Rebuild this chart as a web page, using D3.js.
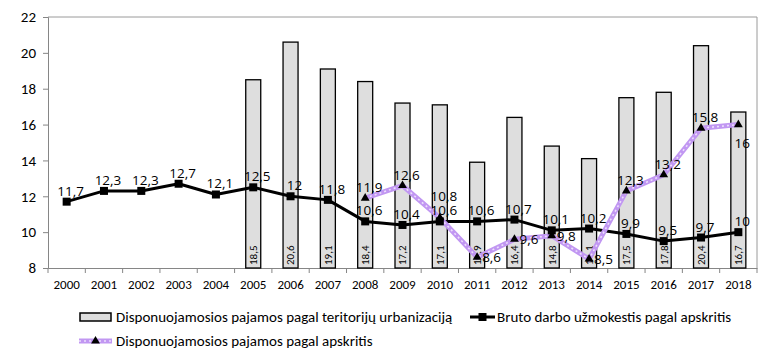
<!DOCTYPE html>
<html>
<head>
<meta charset="utf-8">
<script src="https://cdn.jsdelivr.net/npm/d3@7"></script>
<style>
  body { margin: 0; background: #fff; }
  svg { font-family: Carlito, Lato, "Open Sans", sans-serif; }
  .dlabel { font-family: "Open Sans", sans-serif; }
</style>
</head>
<body>
<div id="viz"></div>
<script>
// data
const years = ["2000","2001","2002","2003","2004","2005","2006","2007","2008","2009",
               "2010","2011","2012","2013","2014","2015","2016","2017","2018"];
// bars: Disponuojamosios pajamos pagal teritorijų urbanizaciją (from 2005)
const barYears = ["2005","2006","2007","2008","2009","2010","2011","2012","2013","2014",
                  "2015","2016","2017","2018"];
const barValues = [18.5, 20.6, 19.1, 18.4, 17.2, 17.1, 13.9, 16.4, 14.8, 14.1, 17.5, 17.8, 20.4, 16.7];
// black line: Bruto darbo užmokestis pagal apskritis
const wageValues = [11.7, 12.3, 12.3, 12.7, 12.1, 12.5, 12, 11.8, 10.6, 10.4,
                    10.6, 10.6, 10.7, 10.1, 10.2, 9.9, 9.5, 9.7, 10];
// purple line: Disponuojamosios pajamos pagal apskritis (from 2008)
const incomeYears = ["2008","2009","2010","2011","2012","2013","2014","2015","2016","2017","2018"];
const incomeValues = [11.9, 12.6, 10.8, 8.6, 9.6, 9.8, 8.5, 12.3, 13.2, 15.8, 16];
// where each data label sits: t = above, tt = higher above, r = right, b = below
const wageLabelPos = years.map(function () { return "t"; });
const incomeLabelPos = ["t","t","tt","r","r","r","r","t","t","t","b"];
const yTicks = [8, 10, 12, 14, 16, 18, 20, 22];

const width = 766;
const height = 352;
const plot = {left: 48, top: 17, right: 757, bottom: 268};

const fmt = function (v) { return String(v).replace(".", ","); };

var svg = d3.select("#viz")
  .append("svg")
  .attr("width", width)
  .attr("height", height);

// scales
const x = d3.scaleBand().domain(years).range([plot.left, plot.right]).padding(0);
const y = d3.scaleLinear().domain([8, 22]).range([plot.bottom, plot.top]);
const cx = function (yr) { return x(yr) + x.bandwidth() / 2; };

// plot frame (top and right)
svg.append("path")
  .attr("d", "M" + plot.left + "," + plot.top + "H" + plot.right + "V" + plot.bottom)
  .attr("fill", "none")
  .attr("stroke", "#9a9a9a")
  .attr("stroke-width", 1);

// y axis
const yAxis = svg.append("g")
  .attr("transform", "translate(" + plot.left + ",0)")
  .call(d3.axisLeft(y).tickValues(yTicks).tickSize(5).tickPadding(7));
yAxis.select(".domain").attr("stroke", "#868686");
yAxis.selectAll(".tick line").attr("stroke", "#868686");
yAxis.selectAll(".tick text").attr("font-size", 15).attr("fill", "#000")
  .style("font-family", "Carlito, Lato, sans-serif");

// x axis, ticks between categories
const xAxis = svg.append("g")
  .attr("transform", "translate(0," + plot.bottom + ")")
  .call(d3.axisBottom(x).tickSize(0).tickPadding(12));
xAxis.select(".domain").attr("stroke", "#868686");
xAxis.selectAll(".tick text").attr("font-size", 13).attr("fill", "#000")
  .style("font-family", "Carlito, Lato, sans-serif");
xAxis.selectAll(".sep")
  .data(years.concat(["end"]))
  .enter()
  .append("line")
  .attr("class", "sep")
  .attr("x1", function (d, i) { return i < years.length ? x(d) : plot.right; })
  .attr("x2", function (d, i) { return i < years.length ? x(d) : plot.right; })
  .attr("y1", 0)
  .attr("y2", 5)
  .attr("stroke", "#868686");

// bars
const barW = 15;
svg.append("g")
  .selectAll("rect")
  .data(barYears)
  .enter()
  .append("rect")
  .attr("x", function (d) { return cx(d) - barW / 2; })
  .attr("y", function (d, i) { return y(barValues[i]); })
  .attr("width", barW)
  .attr("height", function (d, i) { return y(8) - y(barValues[i]); })
  .attr("fill", "#dedede")
  .attr("stroke", "#000")
  .attr("stroke-width", 1.3);

// bar labels, rotated at the bottom of each bar
svg.append("g")
  .selectAll("text")
  .data(barYears)
  .enter()
  .append("text")
  .attr("transform", function (d) { return "translate(" + (cx(d) + 3.8) + "," + (y(8) - 3) + ") rotate(-90)"; })
  .attr("font-size", 11)
  .text(function (d, i) { return fmt(barValues[i]); });

// black line
const wageLine = d3.line()
  .x(function (d) { return cx(d); })
  .y(function (d, i) { return y(wageValues[i]); });
svg.append("path")
  .datum(years)
  .attr("d", wageLine)
  .attr("fill", "none")
  .attr("stroke", "#000")
  .attr("stroke-width", 3)
  .attr("stroke-linejoin", "round");

// purple line: lavender band with light dotted centre
const incomeLine = d3.line()
  .x(function (d) { return cx(d); })
  .y(function (d, i) { return y(incomeValues[i]); });
svg.append("path")
  .datum(incomeYears)
  .attr("d", incomeLine)
  .attr("fill", "none")
  .attr("stroke", "#c197f2")
  .attr("stroke-width", 5);
svg.append("path")
  .datum(incomeYears)
  .attr("d", incomeLine)
  .attr("fill", "none")
  .attr("stroke", "#ecdffb")
  .attr("stroke-width", 1.6)
  .attr("stroke-dasharray", "2,3");

// markers
svg.append("g")
  .selectAll("rect")
  .data(years)
  .enter()
  .append("rect")
  .attr("x", function (d) { return cx(d) - 4; })
  .attr("y", function (d, i) { return y(wageValues[i]) - 4; })
  .attr("width", 8)
  .attr("height", 8)
  .attr("fill", "#000");

const tri = d3.symbol().type(d3.symbolTriangle).size(34);
svg.append("g")
  .selectAll("path")
  .data(incomeYears)
  .enter()
  .append("path")
  .attr("d", tri)
  .attr("transform", function (d, i) { return "translate(" + cx(d) + "," + y(incomeValues[i]) + ")"; })
  .attr("fill", "#000");

// data labels
function addLabels(keys, values, pos) {
  svg.append("g")
    .selectAll("text")
    .data(keys)
    .enter()
    .append("text")
    .attr("class", "dlabel")
    .attr("font-size", 13.5)
    .attr("text-anchor", function (d, i) { return pos[i] === "r" ? "start" : "middle"; })
    .attr("x", function (d, i) { return pos[i] === "r" ? cx(d) + 5 : cx(d) + 4; })
    .attr("y", function (d, i) {
      const py = y(values[i]);
      if (pos[i] === "r") return py + 5;
      if (pos[i] === "b") return py + 23;
      if (pos[i] === "tt") return py - 17;
      return py - 6;
    })
    .text(function (d, i) { return fmt(values[i]); });
}
addLabels(years, wageValues, wageLabelPos);
addLabels(incomeYears, incomeValues, incomeLabelPos);

// legend
const legend = svg.append("g").attr("font-size", 15);
legend.append("rect")
  .attr("x", 80).attr("y", 313).attr("width", 31).attr("height", 8)
  .attr("fill", "#dedede").attr("stroke", "#000").attr("stroke-width", 1.5);
legend.append("text").attr("x", 116).attr("y", 322)
  .text("Disponuojamosios pajamos pagal teritorijų urbanizaciją");

legend.append("line")
  .attr("x1", 470).attr("x2", 495).attr("y1", 317).attr("y2", 317)
  .attr("stroke", "#000").attr("stroke-width", 3);
legend.append("rect")
  .attr("x", 478.5).attr("y", 313).attr("width", 8).attr("height", 8).attr("fill", "#000");
legend.append("text").attr("x", 497).attr("y", 322)
  .text("Bruto darbo užmokestis pagal apskritis");

legend.append("line")
  .attr("x1", 79).attr("x2", 112).attr("y1", 341).attr("y2", 341)
  .attr("stroke", "#c197f2").attr("stroke-width", 5);
legend.append("line")
  .attr("x1", 79).attr("x2", 112).attr("y1", 341).attr("y2", 341)
  .attr("stroke", "#ecdffb").attr("stroke-width", 1.6).attr("stroke-dasharray", "2,3");
legend.append("path")
  .attr("d", tri)
  .attr("transform", "translate(95.5,341)")
  .attr("fill", "#000");
legend.append("text").attr("x", 116).attr("y", 346)
  .text("Disponuojamosios pajamos pagal apskritis");
</script>
</body>
</html>
